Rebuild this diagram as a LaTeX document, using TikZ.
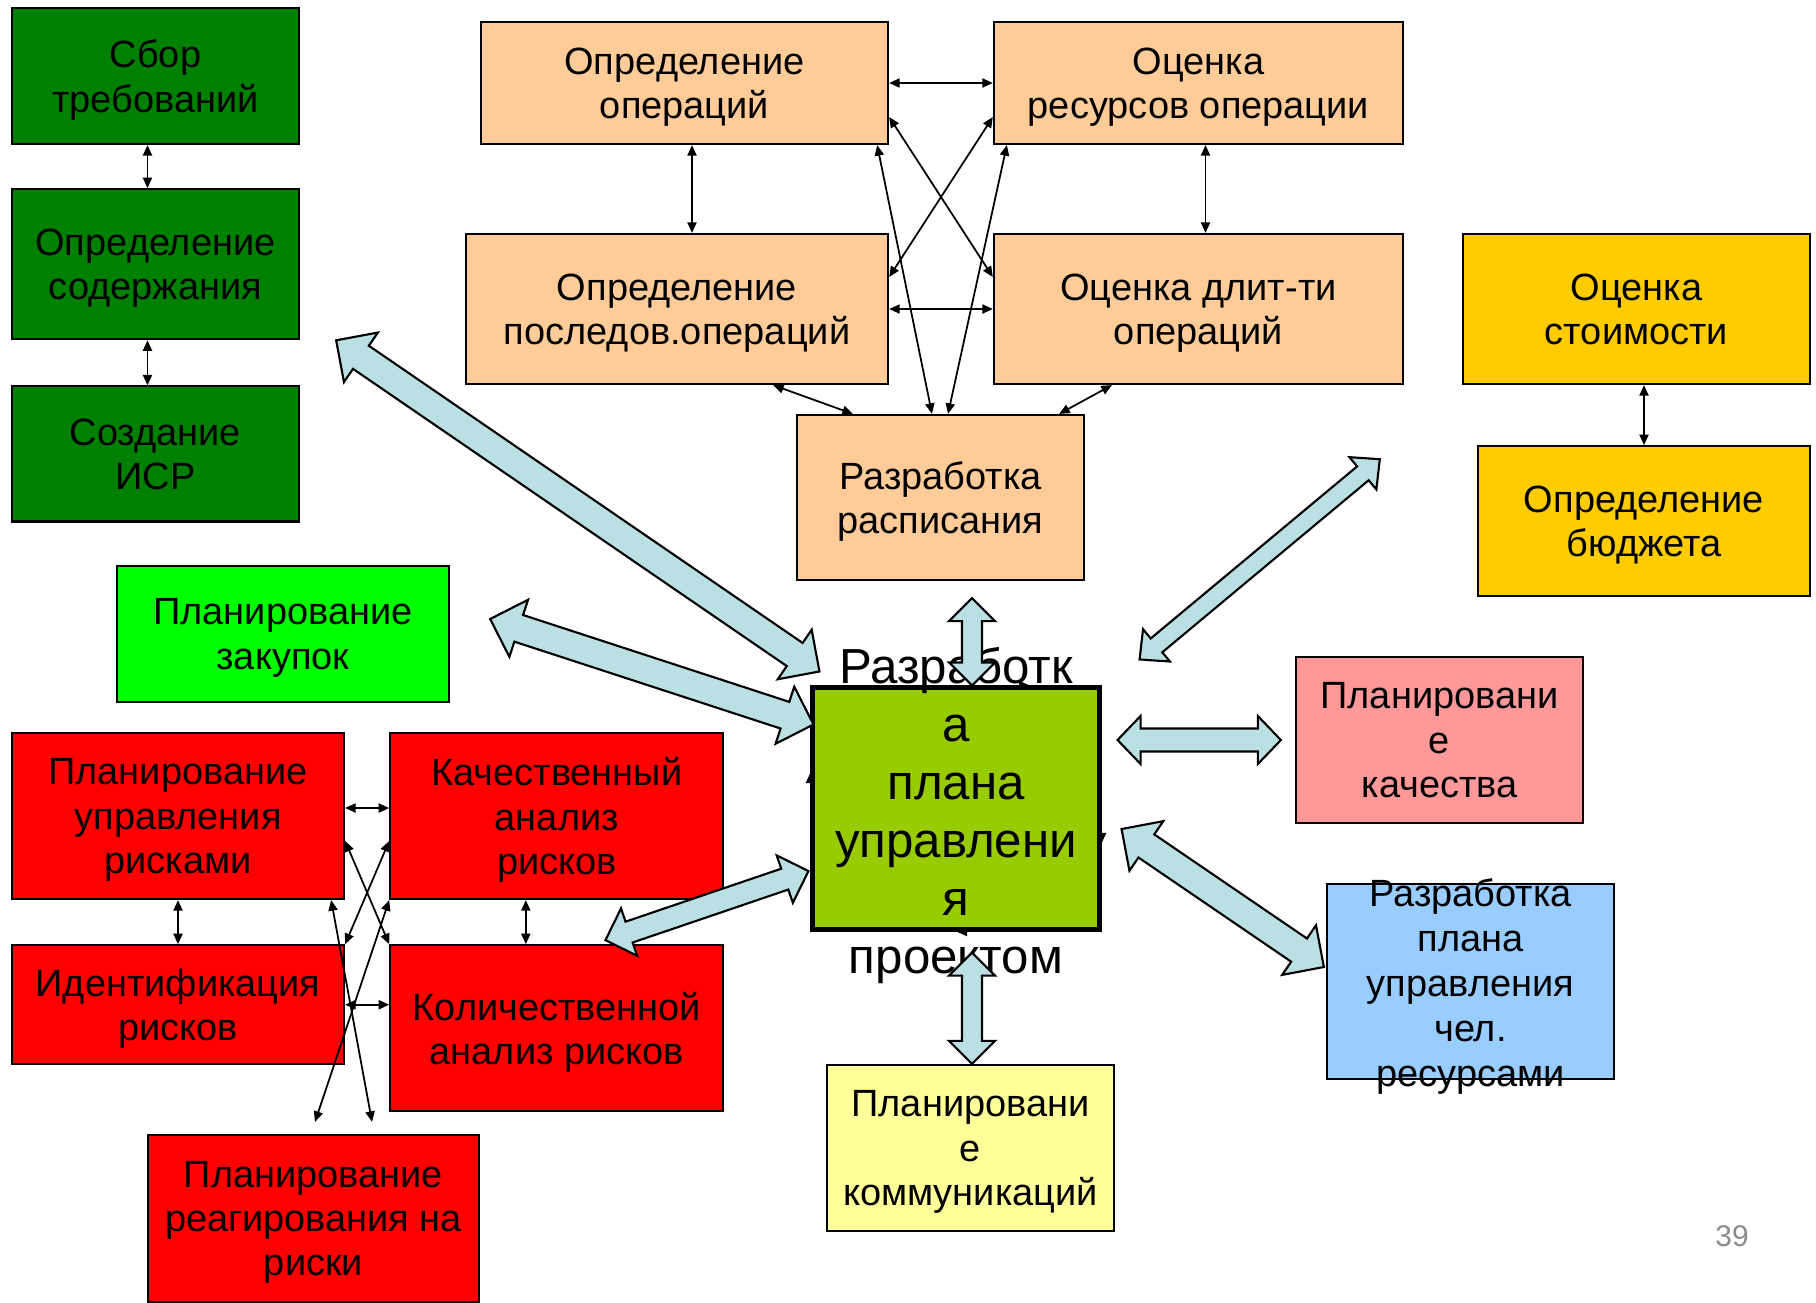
\documentclass[tikz,border=0pt]{standalone}
\usepackage{fontspec}
\setmainfont{Liberation Sans}
\usetikzlibrary{positioning, calc, arrows.meta, decorations.markings}

\definecolor{grnDark}{HTML}{008000}
\definecolor{grnLight}{HTML}{00FF00}
\definecolor{peach}{HTML}{FFCC99}
\definecolor{gold}{HTML}{FFCC00}
\definecolor{riskRed}{HTML}{FF0000}
\definecolor{planGreen}{HTML}{99CC00}
\definecolor{pinkQ}{HTML}{FF9999}
\definecolor{blueHR}{HTML}{99CCFF}
\definecolor{yelC}{HTML}{FFFF99}
\definecolor{fatBlue}{HTML}{BBE0E3}
\definecolor{pageGray}{HTML}{8C8C8C}

% fat double arrow: tip, tip, head length, head half width, shaft half width
\newcommand{\fatarrow}[5]{%
  \coordinate (fa) at (#1);
  \coordinate (fb) at (#2);
  \draw[fat] (fa)
    -- ($(fa)!#3!(fb)!#4!90:(fb)$)
    -- ($(fa)!#3!(fb)!#5!90:(fb)$)
    -- ($(fb)!#3!(fa)!#5!-90:(fa)$)
    -- ($(fb)!#3!(fa)!#4!-90:(fa)$)
    -- (fb)
    -- ($(fb)!#3!(fa)!#4!90:(fa)$)
    -- ($(fb)!#3!(fa)!#5!90:(fa)$)
    -- ($(fa)!#3!(fb)!#5!-90:(fb)$)
    -- ($(fa)!#3!(fb)!#4!-90:(fb)$)
    -- cycle;}

\begin{document}
\begin{tikzpicture}[
        x=0.01cm, y=-0.01cm,
        font=\fontsize{10.8}{12.6}\selectfont,
        blk/.style={
            draw,
            line width=0.6pt,
            align=center,
            inner sep=2pt,
            text depth=0pt
        },
        txt/.style={align=center, text depth=0pt},
        big/.style={font=\fontsize{14}{16.5}\selectfont, align=center, text depth=0pt},
        lnk/.style={{Triangle[length=3pt,width=2.6pt]}-{Triangle[length=3pt,width=2.6pt]}, line width=0.5pt},
        fat/.style={draw, fill=fatBlue, line width=0.6pt, line join=miter}
    ]
    \useasboundingbox (0,0) rectangle (1816,1302);
    \fill[white] (0,0) rectangle (1816,1302);

    % scope
    \node[blk, fill=grnDark, minimum width=2.87cm, minimum height=1.36cm] (sbor) at (155.5,76) {Сбор\\требований};
    \node[blk, fill=grnDark, minimum width=2.87cm, minimum height=1.50cm, below=0.43cm of sbor] (soder) {Определение\\содержания};
    \node[blk, fill=grnDark, minimum width=2.87cm, minimum height=1.35cm, below=0.45cm of soder] (isr) {Создание\\ИСР};

    % time
    \node[blk, fill=peach, minimum width=4.07cm, minimum height=1.22cm] (oper) at (684.5,83) {Определение\\операций};
    \node[blk, fill=peach, minimum width=4.09cm, minimum height=1.22cm] (resurs) at (1198.5,83) {Оценка\\ресурсов операции};
    \node[blk, fill=peach, minimum width=4.22cm, minimum height=1.50cm] (posl) at (677,309) {Определение\\последов.операций};
    \node[blk, fill=peach, minimum width=4.09cm, minimum height=1.50cm] (dlit) at (1198.5,309) {Оценка длит-ти\\операций};
    \node[blk, fill=peach, minimum width=2.87cm, minimum height=1.65cm] (rasp) at (940.5,497.5) {Разработка\\расписания};

    % cost
    \node[blk, fill=gold, minimum width=3.47cm, minimum height=1.50cm] (stoim) at (1636.5,309) {Оценка\\стоимости};
    \node[blk, fill=gold, minimum width=3.32cm, minimum height=1.50cm, below=0.60cm of stoim, xshift=0.075cm] (budget) {Определение\\бюджета};

    \node[blk, fill=grnLight, minimum width=3.32cm, minimum height=1.36cm] (zakup) at (283,634) {Планирование\\закупок};

    % risks
    \node[blk, fill=riskRed, minimum width=3.32cm, minimum height=1.66cm] (rplan) at (178,816) {Планирование\\управления\\рисками};
    \node[blk, fill=riskRed, minimum width=3.33cm, minimum height=1.66cm, right=0.44cm of rplan] (kach) {Качественный\\анализ\\рисков};
    \node[blk, fill=riskRed, minimum width=3.32cm, minimum height=1.19cm, below=0.44cm of rplan] (ident) {Идентификация\\рисков};
    \node[blk, fill=riskRed, minimum width=3.33cm, minimum height=1.66cm, below=0.44cm of kach] (kolich) {Количественной\\анализ рисков};
    \node[blk, fill=riskRed, minimum width=3.31cm, minimum height=1.67cm] (reag) at (313.5,1218.5) {Планирование\\реагирования на\\риски};

    % centre and the rest
    \node[draw, line width=1.4pt, fill=planGreen, minimum width=2.86cm, minimum height=2.41cm, inner sep=0pt] (plan) at (956,808.5) {};
    \node[big] (planTxt) at (956,810) {Разработк\\а\\плана\\управлени\\я\\проектом};
    \path[postaction={decorate}, decoration={markings,
        mark=at position 0.204 with {\arrow{Triangle[length=3pt,width=2.6pt]}},
        mark=at position 0.418 with {\arrow{Triangle[length=3pt,width=2.6pt]}},
        mark=at position 0.635 with {\arrow{Triangle[length=3pt,width=2.6pt]}},
        mark=at position 0.919 with {\arrow{Triangle[length=3pt,width=2.6pt]}}}]
        (plan.north west) -- (plan.north east) -- (plan.south east) -- (plan.south west) -- (plan.north west);

    \node[blk, fill=pinkQ, minimum width=2.87cm, minimum height=1.66cm] (quality) at (1439.5,740) {Планировани\\е\\качества};
    \node[blk, fill=blueHR, minimum width=2.87cm, minimum height=1.95cm] (hr) at (1470.5,981.5) {};
    \node[txt, font=\fontsize{10.8}{12.8}\selectfont] (hrTxt) at (1470.5,983) {Разработка\\плана\\управления\\чел.\\ресурсами};
    \node[blk, fill=yelC, minimum width=2.87cm, minimum height=1.66cm] (comm) at (970.5,1148) {Планировани\\е\\коммуникаций};

    \node[text=pageGray, font=\fontsize{8.5}{10}\selectfont] (pnum) at (1732,1236) {39};

    % thin links
    \draw[lnk] ([xshift=-0.08cm]sbor.south) -- ([xshift=-0.08cm]soder.north);
    \draw[lnk] ([xshift=-0.08cm]soder.south) -- ([xshift=-0.08cm]isr.north);
    \draw[lnk] (oper.east) -- (resurs.west);
    \draw[lnk] (posl.east) -- (dlit.west);
    \draw[lnk] ([xshift=0.075cm]oper.south) -- ([xshift=0.15cm]posl.north);
    \draw[lnk] ([xshift=0.07cm]resurs.south) -- ([xshift=0.07cm]dlit.north);
    \draw[lnk] ([yshift=-0.34cm]oper.east) -- ([yshift=0.32cm]dlit.west);
    \draw[lnk] ([yshift=-0.34cm]resurs.west) -- ([yshift=0.32cm]posl.east);
    \draw[lnk] ([xshift=-0.12cm]oper.south east) -- ([xshift=-0.085cm]rasp.north);
    \draw[lnk] ([xshift=0.14cm]resurs.south west) -- ([xshift=0.075cm]rasp.north);
    \draw[lnk] ([xshift=-1.16cm]posl.south east) -- ([xshift=0.57cm]rasp.north west);
    \draw[lnk] ([xshift=1.19cm]dlit.south west) -- ([xshift=-0.26cm]rasp.north east);
    \draw[lnk] (stoim.south -| budget.north) -- (budget.north);

    \draw[lnk] ([yshift=0.08cm]rplan.east) -- ([yshift=0.08cm]kach.west);
    \draw[lnk] (rplan.south) -- (ident.north);
    \draw[lnk] ([xshift=-0.31cm]kach.south) -- ([xshift=-0.31cm]kolich.north);
    \draw[lnk] (ident.east) -- (ident.east -| kolich.west);
    \draw[lnk] ([yshift=-0.25cm]rplan.east) -- (kolich.north west);
    \draw[lnk] ([yshift=-0.25cm]kach.west) -- (ident.north east);
    \draw[lnk] ([xshift=-0.14cm]rplan.south east) -- ([xshift=0.585cm, yshift=0.12cm]reag.north);
    \draw[lnk] (kach.south west) -- ([xshift=0.015cm, yshift=0.12cm]reag.north);

    % fat arrows to the centre
    \fatarrow{[xshift=0.36cm]soder.south east}{[xshift=0.09cm, yshift=0.14cm]plan.north west}{0.30cm}{0.30cm}{0.14cm}
    \fatarrow{[xshift=0.40cm, yshift=0.15cm]zakup.east}{[xshift=0.03cm, yshift=-0.39cm]plan.north west}{0.30cm}{0.30cm}{0.14cm}
    \fatarrow{[xshift=0.315cm, yshift=-0.17cm]rasp.south}{[xshift=0.16cm]plan.north}{0.23cm}{0.23cm}{0.10cm}
    \fatarrow{[xshift=-0.97cm, yshift=0.62cm]budget.west}{[xshift=0.38cm, yshift=0.26cm]plan.north east}{0.22cm}{0.21cm}{0.09cm}
    \fatarrow{[xshift=0.16cm, yshift=0.685cm]plan.east}{[xshift=-0.14cm]quality.west}{0.23cm}{0.24cm}{0.115cm}
    \fatarrow{[xshift=0.20cm, yshift=-0.205cm]plan.east}{[xshift=-0.02cm, yshift=0.145cm]hr.west}{0.30cm}{0.30cm}{0.14cm}
    \fatarrow{[xshift=0.16cm, yshift=-0.21cm]plan.south}{[xshift=0.015cm]comm.north}{0.23cm}{0.23cm}{0.10cm}
    \fatarrow{[xshift=-0.02cm, yshift=-0.625cm]plan.west}{[xshift=-1.19cm, yshift=-0.40cm]kach.south east}{0.25cm}{0.25cm}{0.11cm}
\end{tikzpicture}
\end{document}
